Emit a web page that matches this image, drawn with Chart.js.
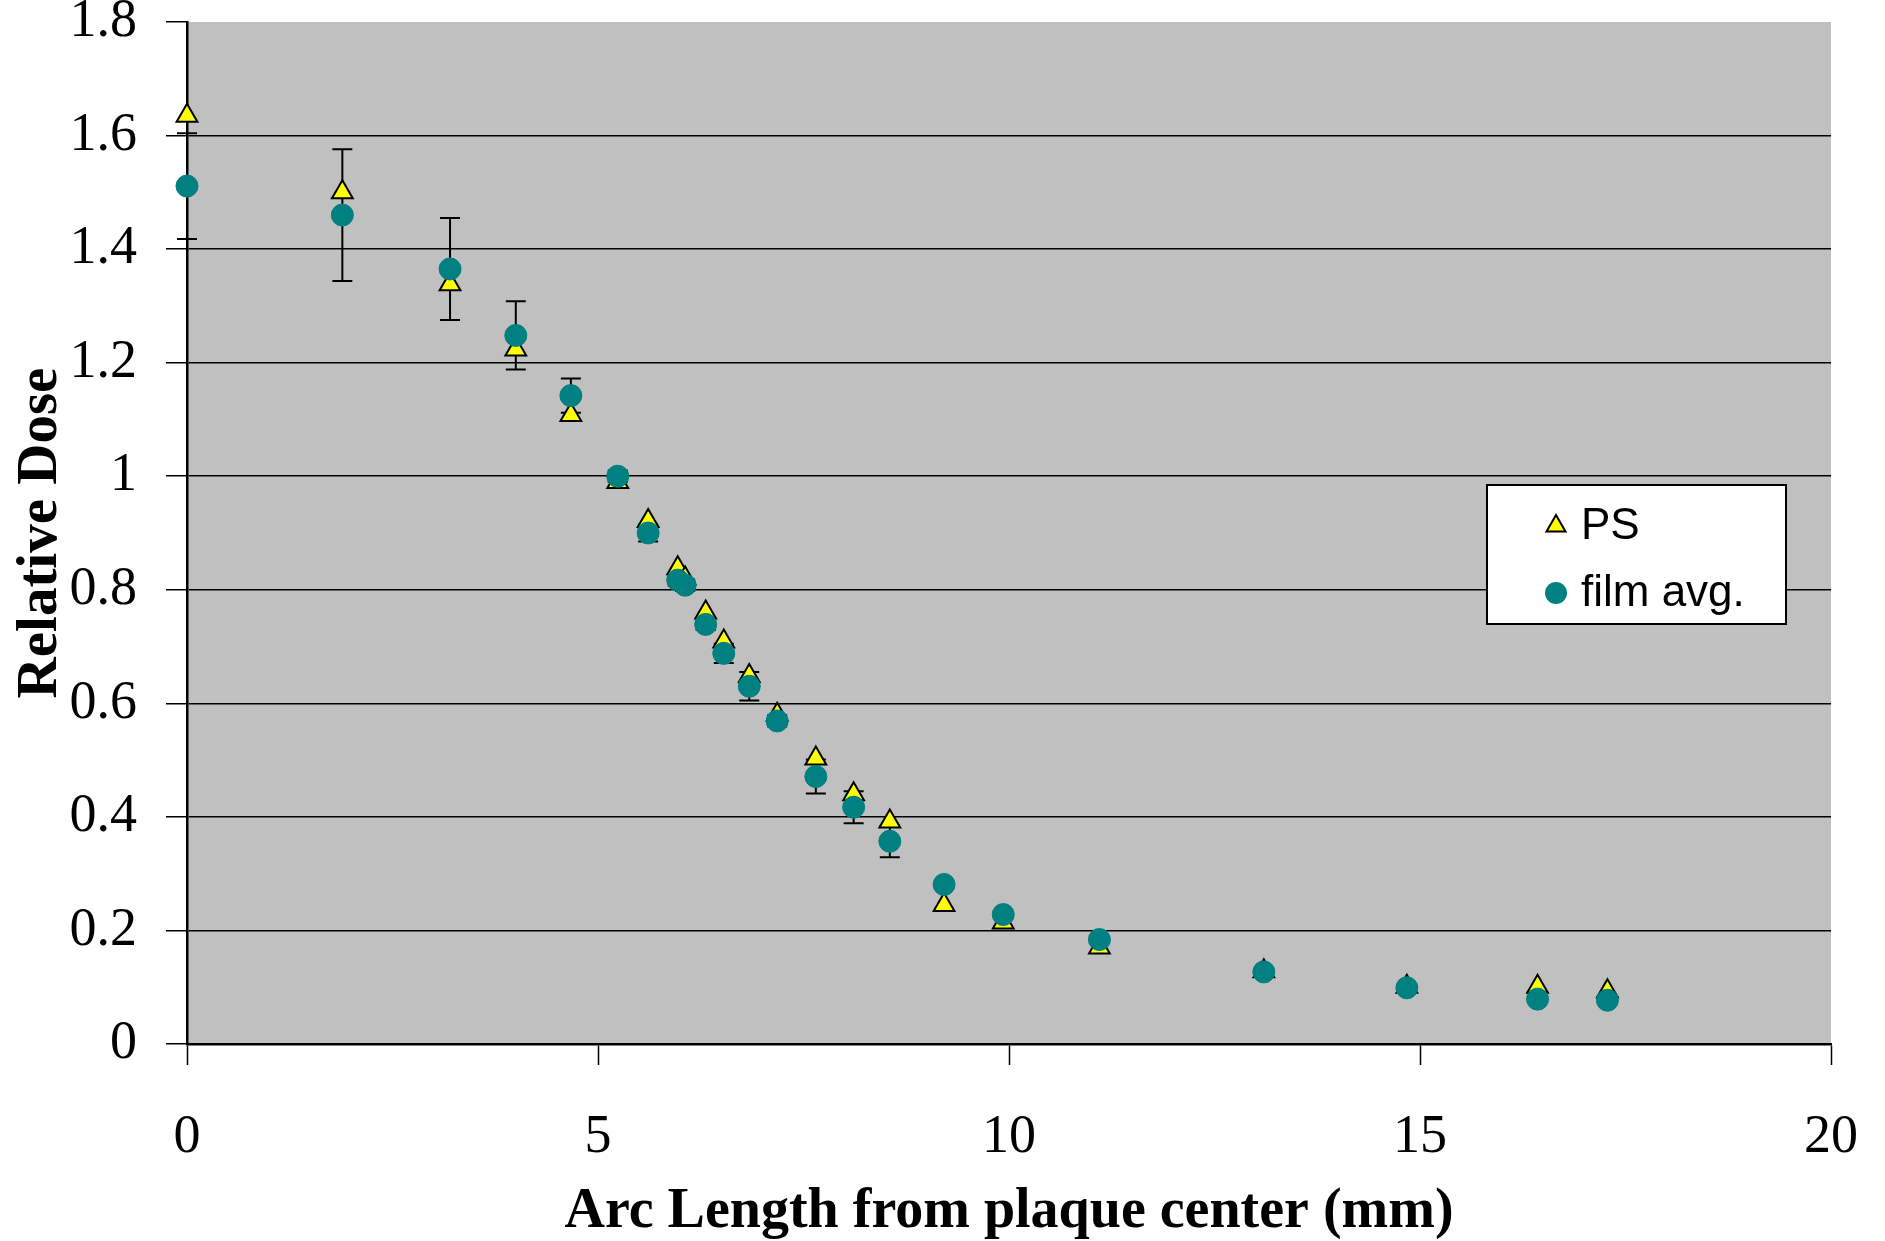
<!DOCTYPE html>
<html>
<head>
<meta charset="utf-8">
<title>Relative Dose vs Arc Length</title>
<script src="https://cdn.jsdelivr.net/npm/chart.js@4.4.1/dist/chart.umd.min.js"></script>
<style>
  html, body { margin: 0; padding: 0; background: #fff; }
  #wrap { width: 1885px; height: 1241px; }
</style>
</head>
<body>
<div id="wrap"><canvas id="doseChart" width="1885" height="1241"></canvas></div>
<script>
// Data
const arcLength = [0, 1.89, 3.2, 4.0, 4.67, 5.24, 5.61, 5.97, 6.06, 6.31, 6.53, 6.84, 7.18,
  7.65, 8.11, 8.55, 9.21, 9.93, 11.1, 13.1, 14.84, 16.43, 17.28];
const psDose = [1.635, 1.50, 1.338, 1.223, 1.108, 0.99, 0.921, 0.838, 0.82, 0.76, 0.709, 0.648, 0.58,
  0.503, 0.44, 0.392, 0.245, 0.214, 0.17, 0.128, 0.101, 0.101, 0.093];
const filmDose = [1.511, 1.46, 1.365, 1.248, 1.142, 1.0, 0.90, 0.817, 0.808, 0.739, 0.688, 0.630, 0.569,
  0.471, 0.417, 0.357, 0.281, 0.228, 0.184, 0.127, 0.099, 0.079, 0.077];
const filmErr = [0.093, 0.116, 0.09, 0.06, 0.03, 0.01, 0.015, 0.01, 0.01, 0.01, 0.017, 0.025, 0.01,
  0.03, 0.028, 0.028, 0.006, 0.005, 0.006, 0.005, 0.004, 0.004, 0.004];
const seriesNames = ["PS", "film avg."];

const PS_FILL = "#ffff00";
const FILM_FILL = "#008080";

function toPoints(ys) {
  return arcLength.map((x, i) => ({ x: x, y: ys[i] }));
}

// gray plot background
const plotBg = {
  id: "plotBg",
  beforeDraw(chart) {
    const a = chart.chartArea;
    const ctx = chart.ctx;
    ctx.save();
    ctx.fillStyle = "#c0c0c0";
    ctx.fillRect(a.left, a.top, a.right - a.left, a.bottom - a.top);
    ctx.restore();
  },
};

// vertical error bars on the film series
const errorBars = {
  id: "errorBars",
  beforeDatasetsDraw(chart) {
    const ctx = chart.ctx;
    const xs = chart.scales.x;
    const ys = chart.scales.y;
    ctx.save();
    ctx.strokeStyle = "#000";
    ctx.lineWidth = 2;
    filmDose.forEach((v, i) => {
      const px = xs.getPixelForValue(arcLength[i]);
      const top = ys.getPixelForValue(v + filmErr[i]);
      const bot = ys.getPixelForValue(v - filmErr[i]);
      ctx.beginPath();
      ctx.moveTo(px, top);
      ctx.lineTo(px, bot);
      ctx.moveTo(px - 10, top);
      ctx.lineTo(px + 10, top);
      ctx.moveTo(px - 10, bot);
      ctx.lineTo(px + 10, bot);
      ctx.stroke();
    });
    ctx.restore();
  },
};

// boxed legend sitting inside the plot
const boxLegend = {
  id: "boxLegend",
  afterDraw(chart) {
    const ctx = chart.ctx;
    const bx = 1487, by = 485, bw = 299, bh = 139;
    ctx.save();
    ctx.fillStyle = "#fff";
    ctx.fillRect(bx, by, bw, bh);
    ctx.strokeStyle = "#000";
    ctx.lineWidth = 2;
    ctx.strokeRect(bx, by, bw, bh);

    ctx.fillStyle = PS_FILL;
    ctx.strokeStyle = "#000";
    ctx.lineWidth = 2;
    Chart.helpers.drawPoint(ctx, { pointStyle: "triangle", radius: 11, borderWidth: 2 }, 1556, 526);
    ctx.fillStyle = FILM_FILL;
    ctx.strokeStyle = FILM_FILL;
    Chart.helpers.drawPoint(ctx, { pointStyle: "circle", radius: 10, borderWidth: 1 }, 1556, 593);

    ctx.fillStyle = "#000";
    ctx.font = "44px 'Liberation Sans', Arial, sans-serif";
    ctx.textBaseline = "middle";
    ctx.textAlign = "left";
    ctx.fillText(seriesNames[0], 1581, 527);
    ctx.fillText(seriesNames[1], 1581, 594);
    ctx.restore();
  },
};

const serif = "'Liberation Serif', 'Times New Roman', serif";

new Chart(document.getElementById("doseChart"), {
  type: "scatter",
  data: {
    datasets: [
      {
        label: seriesNames[0],
        data: toPoints(psDose),
        pointStyle: "triangle",
        pointRadius: 12,
        pointBackgroundColor: PS_FILL,
        pointBorderColor: "#000",
        pointBorderWidth: 2,
        showLine: false,
        clip: false,
        order: 2,
      },
      {
        label: seriesNames[1],
        data: toPoints(filmDose),
        pointStyle: "circle",
        pointRadius: 11,
        pointBackgroundColor: FILM_FILL,
        pointBorderColor: FILM_FILL,
        pointBorderWidth: 1,
        showLine: false,
        clip: false,
        order: 1,
      },
    ],
  },
  options: {
    responsive: false,
    animation: false,
    devicePixelRatio: 1,
    layout: { padding: { top: 22, right: 54, left: 0, bottom: 0 } },
    plugins: {
      legend: { display: false },
      tooltip: { enabled: false },
    },
    scales: {
      x: {
        type: "linear",
        min: 0,
        max: 20,
        ticks: {
          stepSize: 5,
          color: "#000",
          padding: 40,
          font: { family: serif, size: 54 },
          maxRotation: 0,
        },
        grid: {
          drawOnChartArea: false,
          drawTicks: true,
          tickLength: 21,
          tickColor: "#000",
          tickWidth: 1.5,
        },
        border: { color: "#000", width: 2.5 },
        title: {
          display: true,
          text: "Arc Length from plaque center (mm)",
          color: "#000",
          font: { family: serif, size: 56, weight: "bold", lineHeight: 1.0 },
          padding: { top: 0, bottom: 0 },
        },
        afterFit(scale) {
          scale.height = 197;
          scale.paddingLeft = 0;
          scale.paddingRight = 0;
        },
      },
      y: {
        type: "linear",
        min: 0,
        max: 1.8,
        ticks: {
          stepSize: 0.2,
          color: "#000",
          padding: 29,
          font: { family: serif, size: 54 },
          callback: (v) => String(Math.round(v * 10) / 10),
        },
        grid: {
          drawTicks: true,
          tickLength: 21,
          tickColor: "#000",
          tickWidth: 1.5,
          lineWidth: 1.5,
          color: (c) => (c.tick && c.tick.value >= 1.79 ? "rgba(0,0,0,0)" : "#000"),
        },
        border: { color: "#000", width: 2.5 },
        title: {
          display: true,
          text: "Relative Dose",
          color: "#000",
          font: { family: serif, size: 57, weight: "bold", lineHeight: 1.0 },
          padding: { top: 13, bottom: 0 },
        },
        afterFit(scale) {
          scale.width = 187;
          scale.paddingTop = 0;
          scale.paddingBottom = 0;
        },
      },
    },
  },
  plugins: [plotBg, errorBars, boxLegend],
});
</script>
</body>
</html>
